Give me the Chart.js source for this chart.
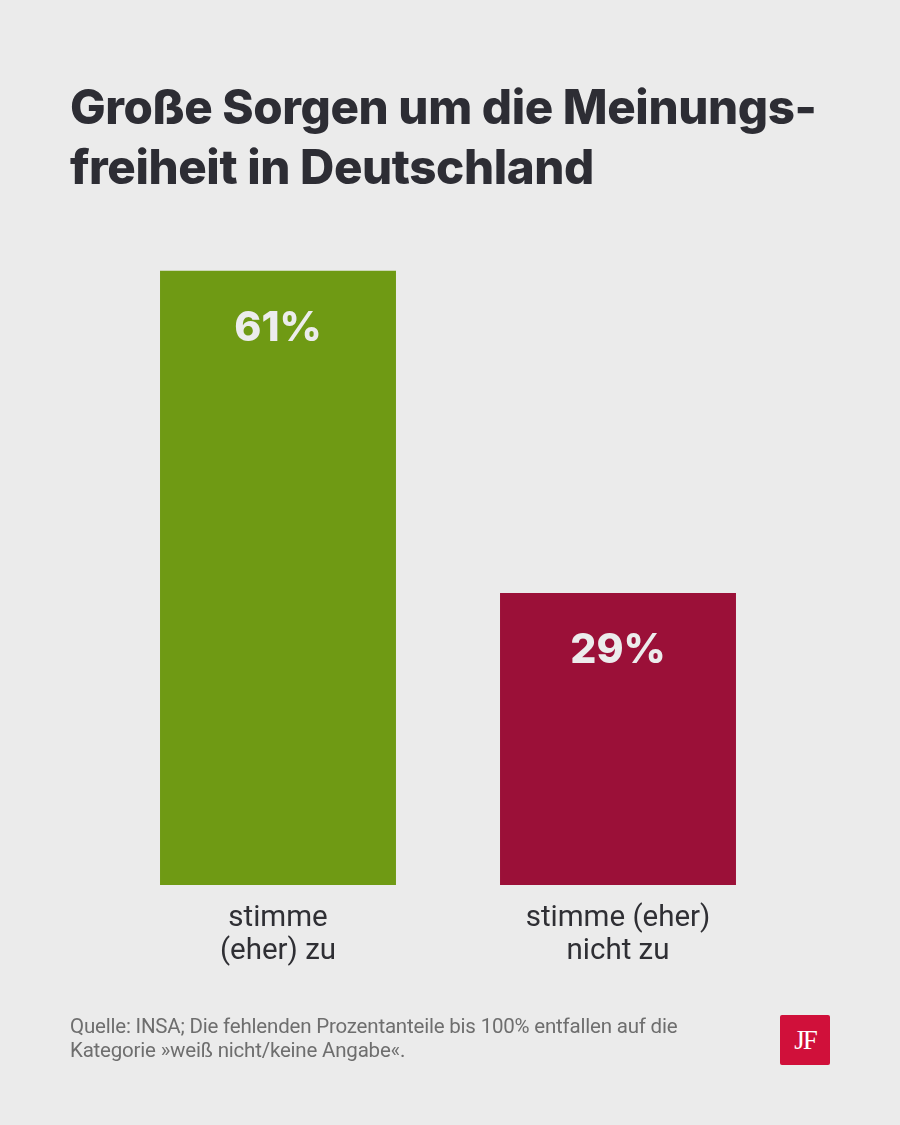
<!DOCTYPE html>
<html lang="de">
<head>
<meta charset="utf-8">
<title>Große Sorgen um die Meinungsfreiheit</title>
<script src="https://cdn.jsdelivr.net/npm/chart.js@4"></script>
<style>
  html, body { margin: 0; padding: 0; background: #ebebeb; }
  #wrap { position: relative; width: 900px; height: 1125px; }
  #title {
    position: absolute; left: 70px; top: 77px; margin: 0;
    font-family: Inter, "Noto Sans", sans-serif; font-weight: 800;
    font-size: 47.5px; line-height: 60px; color: #2d2d34; letter-spacing: -0.4px;
  }
  #chartBox { position: absolute; left: 0; top: 0; width: 900px; height: 1125px; }
  #source {
    position: absolute; left: 70px; top: 1014px; width: 720px;
    font-family: "Roboto", "Liberation Sans Narrow", sans-serif; font-size: 20.5px;
    line-height: 24px; color: #6e6e6e; letter-spacing: -0.2px;
  }
  #logo {
    position: absolute; left: 780px; top: 1015px; width: 50px; height: 50px;
    background: #d0103a; border-radius: 2px; color: #fff;
    font-family: "Liberation Serif", "DejaVu Serif", serif; font-size: 27px;
    line-height: 50px; text-align: center; letter-spacing: -2px;
  }
</style>
</head>
<body>
<div id="wrap">
  <div id="chartBox"><canvas id="myChart"></canvas></div>
  <h1 id="title">Große Sorgen um die Meinungs-<br>freiheit in Deutschland</h1>
  <div id="source">Quelle: INSA; Die fehlenden Prozentanteile bis 100% entfallen auf die<br>Kategorie »weiß nicht/keine Angabe«.</div>
  <div id="logo">JF</div>
</div>
<script>
const categories = [['stimme', '(eher) zu'], ['stimme (eher)', 'nicht zu']];
const values = [61, 29];
const barColors = ['#6f9a14', '#9b1038'];

// Prozentwerte oben in die Balken schreiben
const valueLabels = {
  id: 'valueLabels',
  afterDatasetsDraw(chart) {
    const ctx = chart.ctx;
    const meta = chart.getDatasetMeta(0);
    ctx.save();
    ctx.fillStyle = '#ececec';
    ctx.font = '800 41px Inter, "Noto Sans", sans-serif';
    ctx.textAlign = 'center';
    ctx.textBaseline = 'middle';
    meta.data.forEach((bar, i) => {
      ctx.fillText(values[i] + '%', bar.x, bar.y + 58);
    });
    ctx.restore();
  }
};

const ctx = document.getElementById('myChart');
const dataset = {
  labels: categories,
  datasets: [{
    data: values,
    backgroundColor: barColors,
    borderWidth: 0,
    categoryPercentage: 1,
    barPercentage: 0.694
  }]
};

const config = {
  type: 'bar',
  data: dataset,
  options: {
    responsive: false,
    animation: false,
    layout: { padding: { left: 108, right: 112, top: 180, bottom: 148 } },
    plugins: { legend: { display: false }, tooltip: { enabled: false } },
    scales: {
      x: {
        grid: { display: false },
        border: { display: false },
        ticks: {
          color: '#2f2f34',
          padding: 9,
          font: { family: 'Roboto, "Noto Sans", sans-serif', size: 29.5, lineHeight: 1.12 }
        }
      },
      y: {
        display: false,
        min: 0,
        max: 70
      }
    }
  },
  plugins: [valueLabels]
};
ctx.width = 900;
ctx.height = 1125;
const chart = new Chart(ctx, config);
</script>
</body>
</html>
